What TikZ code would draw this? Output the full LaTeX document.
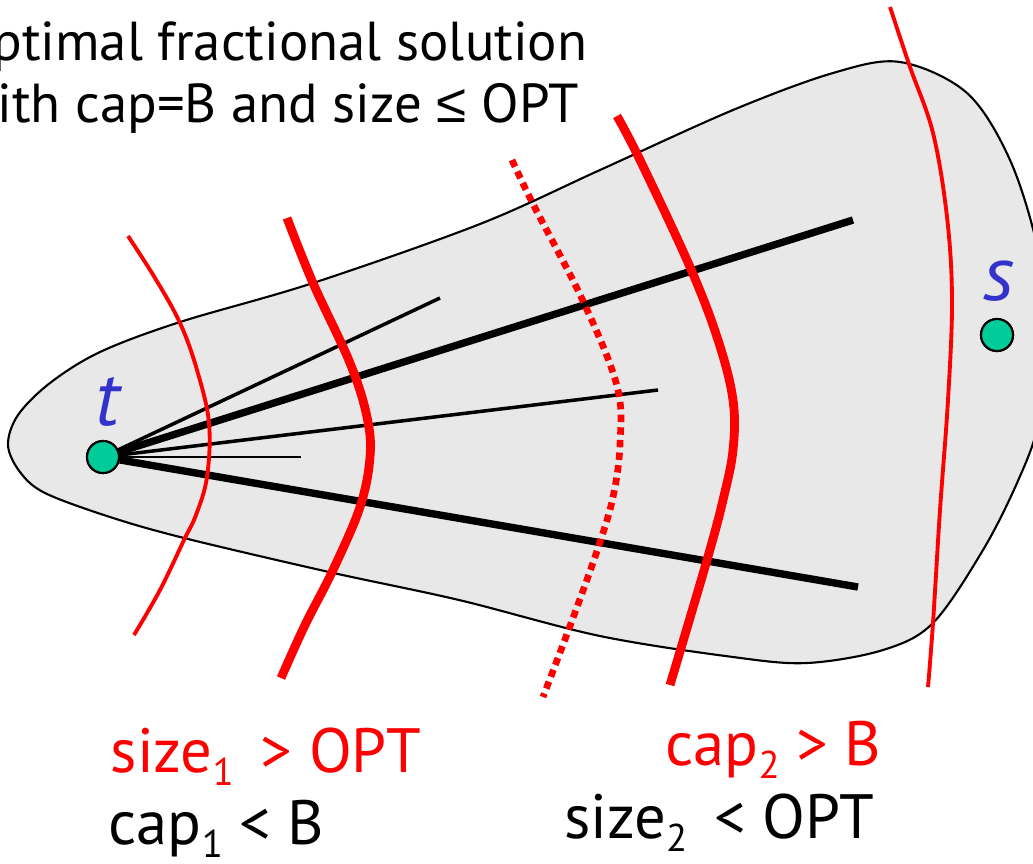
\documentclass[tikz,border=0pt]{standalone}
\usepackage{fontspec}
\setmainfont{PT Sans}
\newfontfamily\symfont{Liberation Sans}
\definecolor{blobgray}{RGB}{232,232,232}
\definecolor{vgreen}{RGB}{0,204,153}
\definecolor{lblue}{RGB}{51,51,204}
\definecolor{cutred}{RGB}{255,0,0}
\newcommand{\sbs}[1]{\raisebox{-3.8pt}{\fontsize{11}{12}\selectfont #1}}
\begin{document}
\begin{tikzpicture}[x=0.01cm,y=-0.01cm,
  blob/.style={draw=black,line width=0.6pt,fill=blobgray},
  vertex/.style={circle,draw=black,line width=0.6pt,fill=vgreen,minimum size=0.32cm,inner sep=0pt},
  vlabel/.style={text=lblue,font=\fontsize{22}{24}\selectfont\itshape,inner sep=0pt},
  thickedge/.style={draw=black,line width=2.1pt},
  thinedge/.style={draw=black,line width=1pt},
  hairedge/.style={draw=black,line width=0.45pt},
  thincut/.style={draw=cutred,line width=1.1pt},
  thickcut/.style={draw=cutred,line width=2.5pt},
  dotcut/.style={draw=cutred,line width=1.9pt,dash pattern=on 2.1pt off 1.5pt},
  toptext/.style={font=\fontsize{15.6}{19}\selectfont,inner sep=0pt},
  bottext/.style={font=\fontsize{17.8}{21}\selectfont,inner sep=0pt}
]
\useasboundingbox (0,0) rectangle (1033,863);
\clip (0,0) rectangle (1033,863);

% region
\draw[blob] plot[smooth cycle, tension=0.55] coordinates {
  (8,445) (18,415) (50,383) (100,352) (180,322) (313,283) (480,224) (600,170)
  (733,110) (833,73) (900,62) (967,93) (1010,160) (1038,250) (1048,340)
  (1038,425) (1017,483) (983,550) (933,623) (883,650) (807,663) (733,657)
  (600,636) (459,600) (329,572) (184,538) (110,517) (45,493) (20,472)};

% vertices
\node[vertex] (t) at (103,457) {};
\node[vertex] (s) at (997,335) {};
\node[vlabel,anchor=base] (tl) at (108,425) {t};
\node[vlabel,anchor=base] (sl) at (999,300) {s};

% edge ends
\coordinate (e1) at (440,298);
\coordinate (e2) at (853,220);
\coordinate (e3) at (658,390);
\coordinate (e4) at (301,457);
\coordinate (e5) at (858,587);

\draw[thinedge] (t) -- (e1);
\draw[thickedge] (t) -- (e2);
\draw[thinedge] (t) -- (e3);
\draw[hairedge] (t) -- (e4);
\draw[thickedge] (t) -- (e5);

% cuts
\draw[thincut] plot[smooth, tension=0.6] coordinates {
  (128,236) (155,278) (180,323) (197,370) (209,423) (207,477) (196,515)
  (184,540) (160,590) (134,635)};
\draw[thickcut] plot[smooth, tension=0.6] coordinates {
  (287,218) (313,283) (350,363) (367,417) (370,457) (360,507) (333,570)
  (305,625) (281,678)};
\draw[dotcut] plot[smooth, tension=0.6] coordinates {
  (512,160) (533,204) (583,301) (617,386) (620,444) (613,497) (597,551)
  (570,626) (543,697)};
\draw[thickcut] plot[smooth, tension=0.6] coordinates {
  (617,116) (640,160) (690,267) (718,340) (733,400) (733,450) (723,500)
  (707,560) (670,685)};
\draw[thincut] plot[smooth, tension=0.6] coordinates {
  (890,7) (910,67) (933,133) (947,217) (952,300) (948,400) (940,510)
  (933,623) (928,687)};

% redraw vertices on top
\node[vertex] at (t) {};
\node[vertex] at (s) {};

% texts
\node[toptext,anchor=base east] (top1) at (588,60) {optimal fractional solution};
\node[toptext,anchor=base east] (top2) at (580,122) {with cap=B and size {\symfont ≤} OPT};

\node[bottext,anchor=base west,text=cutred] (l1) at (110,772) {size\sbs{1}\, > OPT};
\node[bottext,anchor=base west] (l2) at (108,844) {cap\sbs{1} < B};
\node[bottext,anchor=base east,text=cutred] (r1) at (882,765) {cap\sbs{2} > B};
\node[bottext,anchor=base east] (r2) at (875,838) {size\sbs{2}\, < OPT};
\end{tikzpicture}
\end{document}
